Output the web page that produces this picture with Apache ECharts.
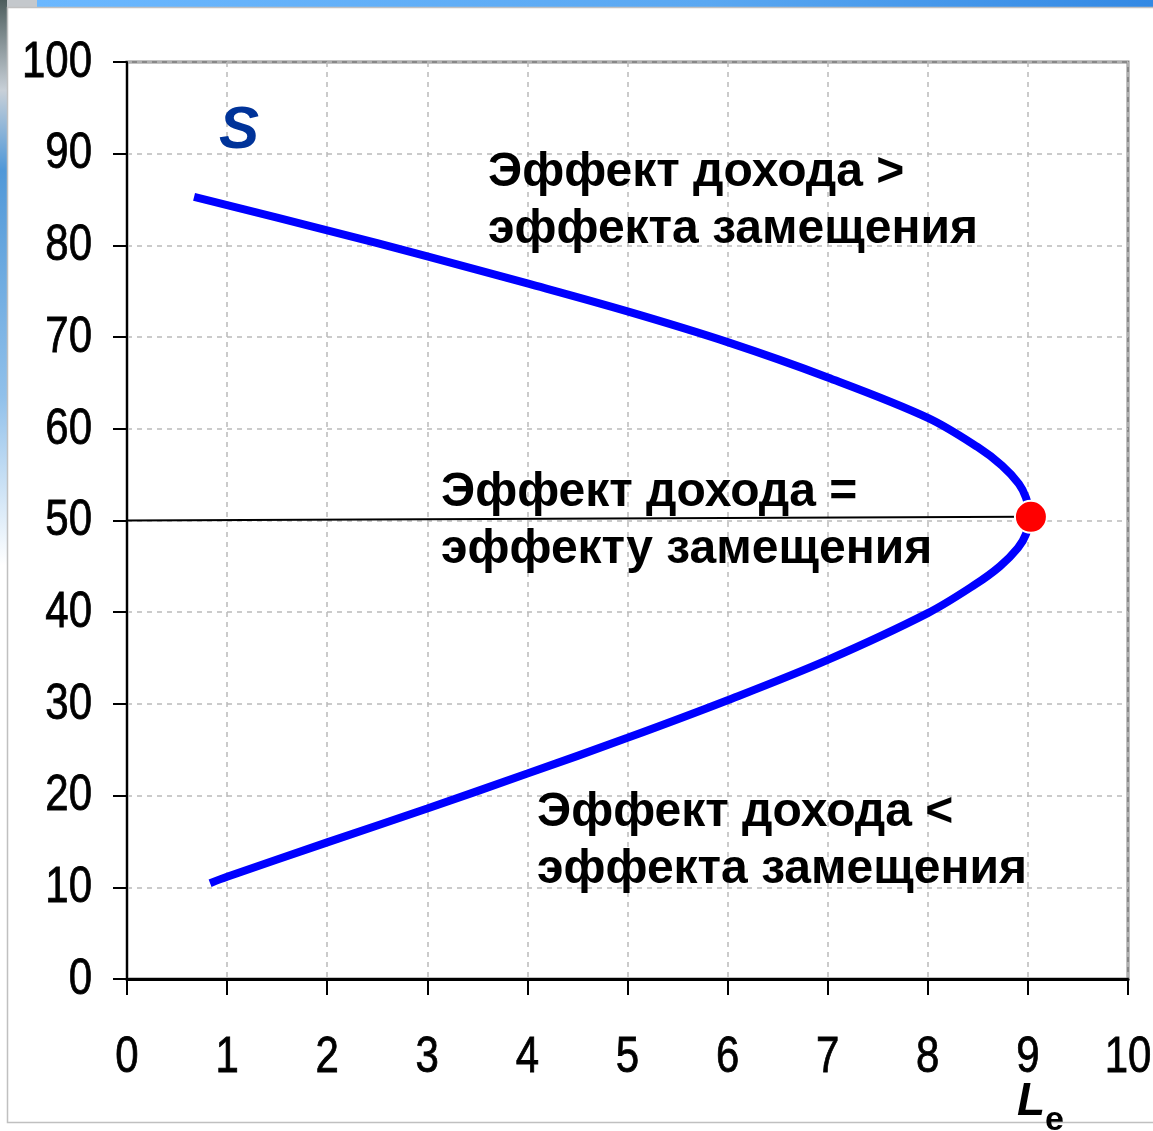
<!DOCTYPE html>
<html>
<head>
<meta charset="utf-8">
<script src="https://cdn.jsdelivr.net/npm/echarts@6/dist/echarts.min.js"></script>
<style>
html,body{margin:0;padding:0;background:#fff;}
#c{width:1153px;height:1131px;}
</style>
</head>
<body>
<div id="c"></div>
<script>
// Supply curve S (labour supply Le vs wage)
const curveX = [0.67, 1, 2, 3, 4, 5, 6, 7, 8, 8.5, 8.74, 8.91, 8.98, 9.02, 8.98, 8.9, 8.72, 8.47, 8, 7, 6, 5, 4, 3, 2, 1, 0.83];
const curveY = [85.3, 84.4, 81.65, 78.8, 75.85, 72.8, 69.45, 65.6, 61.2, 58, 56, 54, 52.5, 50.5, 48.5, 47, 45, 43, 39.9, 34.8, 30.4, 26.3, 22.4, 18.6, 14.9, 11.15, 10.45];
const refLineX = [0, 8.95];
const refLineY = [50.0, 50.4];
const pointX = [9.03];
const pointY = [50.4];
const xTicks = [0,1,2,3,4,5,6,7,8,9,10];
const yTicks = [0,10,20,30,40,50,60,70,80,90,100];
const labelAbove = ['Эффект дохода >', 'эффекта замещения'];
const labelEqual = ['Эффект дохода =', 'эффекту замещения'];
const labelBelow = ['Эффект дохода <', 'эффекта замещения'];

const zip = (a, b) => a.map((v, i) => [v, b[i]]);
const txtFont = "'Liberation Sans',Arial,sans-serif";

const chart = echarts.init(document.getElementById('c'), null, {renderer: 'canvas'});
const baseGraphic = [
  // slide decoration
  {type: 'rect', shape: {x: 37, y: 0, width: 1116, height: 7}, style: {fill: new echarts.graphic.LinearGradient(0,0,1,0,[{offset:0,color:'#6bb8ff'},{offset:0.6,color:'#5aa8f2'},{offset:1,color:'#3389e4'}])}, silent: true},
  {type: 'rect', shape: {x: 0, y: 0, width: 37, height: 7}, style: {fill: '#c4c8cc'}, silent: true},
  {type: 'rect', shape: {x: 0, y: 0, width: 7, height: 1131}, style: {fill: new echarts.graphic.LinearGradient(0,0,0,1,[{offset:0,color:'#4d5d5d'},{offset:0.08,color:'#c8d0d8'},{offset:0.15,color:'#5098d8'},{offset:0.35,color:'#90c0ea'},{offset:0.5,color:'#ffffff'},{offset:1,color:'#ffffff'}])}, silent: true},
  {type: 'rect', shape: {x: 7.5, y: 7.5, width: 1160, height: 1115}, style: {fill: 'none', stroke: '#c0c0c0', lineWidth: 1.5}, silent: true},
  // annotations
  {type: 'text', x: 239, y: 131, style: {text: 'S', font: "italic bold 60px " + txtFont, fill: '#003399', textAlign: 'center', textVerticalAlign: 'middle'}, z: 10},
  {type: 'text', x: 488, y: 144, style: {text: labelAbove.join('\n'), font: "bold 48px " + txtFont, lineHeight: 57, fill: '#000', textAlign: 'left', textVerticalAlign: 'top'}, z: 10},
  {type: 'text', x: 441, y: 464, style: {text: labelEqual.join('\n'), font: "bold 48px " + txtFont, lineHeight: 57, fill: '#000', textAlign: 'left', textVerticalAlign: 'top'}, z: 10},
  {type: 'text', x: 537, y: 784, style: {text: labelBelow.join('\n'), font: "bold 48px " + txtFont, lineHeight: 57, fill: '#000', textAlign: 'left', textVerticalAlign: 'top'}, z: 10},
  {type: 'text', x: 1017, y: 1102, style: {text: 'L', font: "italic bold 46px " + txtFont, fill: '#000', textAlign: 'left', textVerticalAlign: 'middle'}, z: 10},
  {type: 'text', x: 1045, y: 1121, style: {text: 'e', font: "bold 34px " + txtFont, fill: '#000', textAlign: 'left', textVerticalAlign: 'middle'}, z: 10}
];

chart.setOption({
  backgroundColor: '#ffffff',
  animation: false,
  grid: {left: 127, top: 62, right: 25, bottom: 152, show: true, borderColor: '#888888', borderWidth: 3, backgroundColor: 'transparent'},
  xAxis: {
    type: 'value', min: 0, max: 10, interval: 1,
    axisLine: {show: true, onZero: false, lineStyle: {color: '#000', width: 3}},
    axisTick: {show: true, length: 16, lineStyle: {color: '#000', width: 2}},
    axisLabel: {show: false},
    splitLine: {show: true, lineStyle: {color: '#bbbbbb', type: [5, 5], width: 1.5}}
  },
  yAxis: {
    type: 'value', min: 0, max: 100, interval: 10,
    axisLine: {show: true, onZero: false, lineStyle: {color: '#000', width: 2}},
    axisTick: {show: true, length: 14, lineStyle: {color: '#000', width: 2}},
    axisLabel: {show: false},
    splitLine: {show: true, lineStyle: {color: '#bbbbbb', type: [5, 5], width: 1.5}}
  },
  series: [
    {
      type: 'line', data: zip(refLineX, refLineY), showSymbol: false, symbol: 'none',
      lineStyle: {color: '#000', width: 2}, z: 2
    },
    {
      type: 'line', data: zip(curveX, curveY), smooth: 0.35, showSymbol: false, symbol: 'none',
      lineStyle: {color: '#0000ff', width: 8, cap: 'butt'}, z: 3
    },
    {
      type: 'scatter', data: zip(pointX, pointY), symbolSize: 32,
      itemStyle: {color: '#ff0000', opacity: 1, borderColor: '#ffffff', borderWidth: 2}, z: 5
    }
  ],
  graphic: baseGraphic
});

// Narrow tick labels placed through the axis scales
const numStyle = {font: "50px 'Liberation Sans',Arial,sans-serif", fill: '#000', stroke: '#000', lineWidth: 0.8};
const tickGraphic = [];
xTicks.forEach(v => {
  const p = chart.convertToPixel({gridIndex: 0}, [v, 0]);
  tickGraphic.push({type: 'text', x: p[0], y: p[1] + 79, scaleX: 0.84, silent: true,
    style: Object.assign({text: String(v), textAlign: 'center', textVerticalAlign: 'middle'}, numStyle)});
});
yTicks.forEach(v => {
  const p = chart.convertToPixel({gridIndex: 0}, [0, v]);
  tickGraphic.push({type: 'text', x: p[0] - 35, y: p[1] + 1, scaleX: 0.84, silent: true,
    style: Object.assign({text: String(v), textAlign: 'right', textVerticalAlign: 'middle'}, numStyle)});
});
chart.setOption({graphic: baseGraphic.concat(tickGraphic)}, {replaceMerge: ['graphic']});
</script>
</body>
</html>
